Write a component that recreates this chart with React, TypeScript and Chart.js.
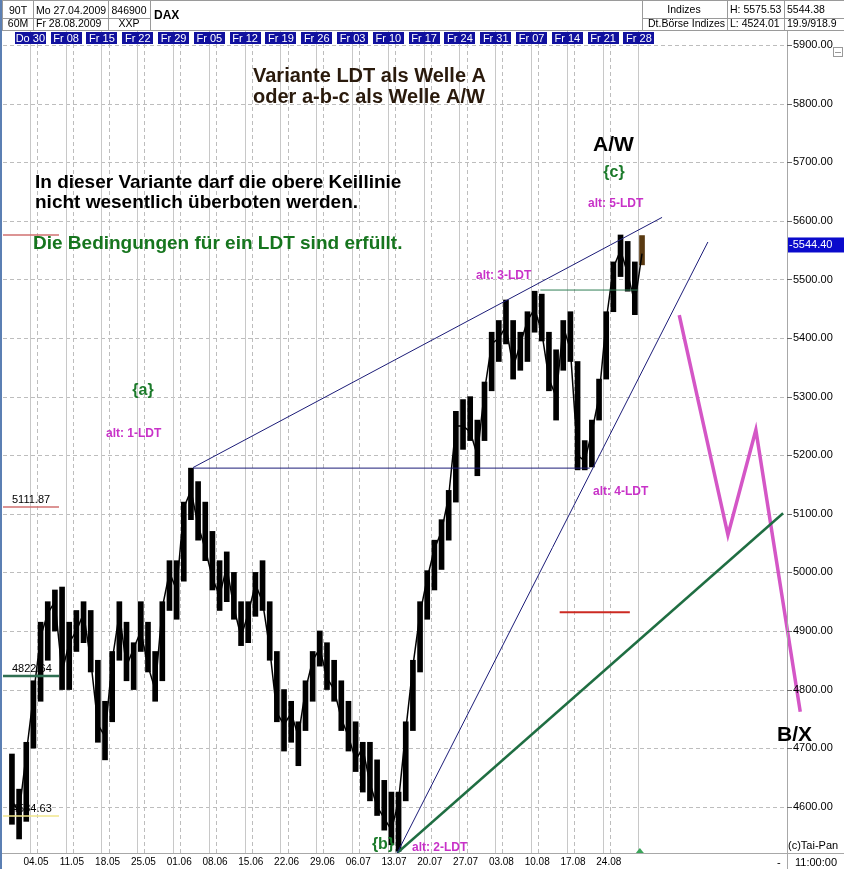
import React, { useEffect, useRef } from "react";
import { Chart, registerables } from "chart.js";

Chart.register(...registerables);

const FONT = '"Liberation Sans", Arial, Helvetica, sans-serif';

// trading-day index (0 = Mo 04.05.2009, 84 = Fr 28.08.2009)
const days = [-4, -3, -2, -1, 0, 1, 2, 3, 4, 5, 6, 7, 8, 9, 10, 11, 12, 13, 14, 15, 16, 17, 18, 19, 20, 21, 22, 23, 24, 25, 26, 27, 28, 29, 30, 31, 32, 33, 34, 35, 36, 37, 38, 39, 40, 41, 42, 43, 44, 45, 46, 47, 48, 49, 50, 51, 52, 53, 54, 55, 56, 57, 58, 59, 60, 61, 62, 63, 64, 65, 66, 67, 68, 69, 70, 71, 72, 73, 74, 75, 76, 77, 78, 79, 80, 81, 82, 83, 84];
const lows = [4570, 4545, 4575, 4700, 4780, 4850, 4900, 4800, 4800, 4865, 4880, 4830, 4710, 4680, 4745, 4850, 4815, 4800, 4865, 4830, 4780, 4815, 4935, 4920, 4985, 5090, 5055, 5020, 4970, 4935, 4950, 4920, 4875, 4880, 4925, 4935, 4850, 4745, 4695, 4710, 4670, 4730, 4780, 4840, 4800, 4780, 4730, 4695, 4660, 4625, 4610, 4585, 4560, 4535, 4524, 4610, 4730, 4830, 4920, 4970, 5005, 5055, 5120, 5210, 5225, 5165, 5225, 5310, 5360, 5390, 5330, 5345, 5360, 5410, 5395, 5310, 5260, 5345, 5360, 5175, 5175, 5180, 5260, 5330, 5445, 5505, 5480, 5440, 5525];
const highs = [4690, 4630, 4710, 4815, 4915, 4950, 4970, 4975, 4915, 4935, 4950, 4935, 4850, 4780, 4865, 4950, 4915, 4880, 4950, 4915, 4865, 4950, 5020, 5020, 5120, 5178, 5155, 5120, 5070, 5020, 5035, 5000, 4950, 4950, 5000, 5020, 4950, 4865, 4800, 4780, 4745, 4815, 4865, 4900, 4880, 4850, 4815, 4780, 4745, 4710, 4710, 4680, 4645, 4625, 4625, 4745, 4850, 4950, 5003, 5055, 5090, 5140, 5275, 5295, 5300, 5260, 5325, 5410, 5430, 5465, 5430, 5410, 5445, 5480, 5475, 5410, 5380, 5430, 5445, 5360, 5225, 5260, 5330, 5445, 5530, 5576, 5565, 5530, 5575];
const closes = [4610, 4590, 4690, 4790, 4890, 4930, 4950, 4830, 4880, 4900, 4930, 4850, 4740, 4720, 4850, 4930, 4840, 4870, 4900, 4840, 4800, 4940, 5000, 4970, 5110, 5140, 5080, 5040, 4990, 4960, 5010, 4940, 4890, 4930, 4980, 4950, 4870, 4760, 4740, 4760, 4720, 4800, 4850, 4870, 4820, 4800, 4750, 4720, 4680, 4700, 4640, 4600, 4580, 4560, 4610, 4730, 4840, 4930, 4990, 5040, 5070, 5130, 5250, 5250, 5240, 5200, 5310, 5390, 5400, 5420, 5350, 5390, 5430, 5450, 5410, 5330, 5300, 5420, 5380, 5200, 5190, 5240, 5300, 5430, 5520, 5550, 5510, 5460, 5544];

const priceTicks = [5900, 5800, 5700, 5600, 5500, 5400, 5300, 5200, 5100, 5000, 4900, 4800, 4700, 4600];
const mondayDays = [0, 5, 10, 15, 20, 25, 30, 35, 40, 45, 50, 55, 60, 65, 70, 75, 80];
const mondayLabels = ["04.05", "11.05", "18.05", "25.05", "01.06", "08.06", "15.06", "22.06", "29.06", "06.07", "13.07", "20.07", "27.07", "03.08", "10.08", "17.08", "24.08"];
const fridayDays = [-1, 4, 9, 14, 19, 24, 29, 34, 39, 44, 49, 54, 59, 64, 69, 74, 79, 84];
const fridayLabels = ["Do 30", "Fr 08", "Fr 15", "Fr 22", "Fr 29", "Fr 05", "Fr 12", "Fr 19", "Fr 26", "Fr 03", "Fr 10", "Fr 17", "Fr 24", "Fr 31", "Fr 07", "Fr 14", "Fr 21", "Fr 28"];

// annotation lines (day index, price)
const upperWedgeX = [21.8, 87.3];
const upperWedgeY = [5179, 5606];
const baseLineX = [21.8, 77.2];
const baseLineY = [5178, 5178];
const lowerWedgeX = [50.3, 93.7];
const lowerWedgeY = [4521, 5564];
const greenTrendX = [50.3, 104.2];
const greenTrendY = [4521, 5101];
const greenLevelX = [70.3, 83.9];
const greenLevelY = [5482, 5482];
const redLevelX = [73, 82.8];
const redLevelY = [4932, 4932];
const projX = [89.7, 96.5, 100.4, 106.6];
const projY = [5439, 5064, 5243, 4762];

// markers on left edge
const markerValues = [5575.53, 5111.87, 4822.64, 4584.63];
const markerLabels = ["", "5111.87", "4822.64", "4584.63"];
const markerColors = ["#d07070", "#d07070", "#2f6f52", "#f0e68c"];
const lastPrice = 5544.4;

function pts(xs: number[], ys: number[]) {
  return xs.map((x, i) => ({ x, y: ys[i] }));
}

function text(ctx: CanvasRenderingContext2D, s: string, x: number, y: number, font: string, color: string, align: CanvasTextAlign = "left") {
  ctx.font = font;
  ctx.fillStyle = color;
  ctx.textAlign = align;
  ctx.textBaseline = "alphabetic";
  ctx.fillText(s, x, y);
}

const decoPlugin = {
  id: "deco",
  beforeDatasetsDraw(chart: any) {
    const ctx: CanvasRenderingContext2D = chart.ctx;
    const xs = chart.scales.x;
    const ys = chart.scales.y;
    const { left, right, top, bottom } = chart.chartArea;
    ctx.save();
    ctx.fillStyle = "#ffffff";
    ctx.fillRect(0, 0, chart.width, chart.height);
    ctx.strokeStyle = "#bdbdbd";
    ctx.lineWidth = 1;
    ctx.setLineDash([4, 3]);
    priceTicks.forEach((p) => {
      const y = Math.round(ys.getPixelForValue(p)) + 0.5;
      ctx.beginPath();
      ctx.moveTo(left, y);
      ctx.lineTo(right, y);
      ctx.stroke();
    });
    mondayDays.forEach((d) => {
      const x = Math.round(xs.getPixelForValue(d)) + 0.5;
      ctx.beginPath();
      ctx.moveTo(x, top);
      ctx.lineTo(x, bottom);
      ctx.stroke();
    });
    ctx.setLineDash([]);
    ctx.strokeStyle = "#c8c8c8";
    fridayDays.forEach((d) => {
      const x = Math.round(xs.getPixelForValue(d)) + 0.5;
      ctx.beginPath();
      ctx.moveTo(x, 31);
      ctx.lineTo(x, bottom);
      ctx.stroke();
    });
    ctx.restore();
  },
  afterDraw(chart: any) {
    const ctx: CanvasRenderingContext2D = chart.ctx;
    const xs = chart.scales.x;
    const ys = chart.scales.y;
    const { right, bottom } = chart.chartArea;
    const W = chart.width;
    const H = chart.height;
    ctx.save();

    markerValues.forEach((v, i) => {
      const y = Math.round(ys.getPixelForValue(v));
      ctx.strokeStyle = markerColors[i];
      ctx.lineWidth = i === 2 ? 2.5 : 1.5;
      ctx.beginPath();
      ctx.moveTo(3, y);
      ctx.lineTo(59, y);
      ctx.stroke();
      if (markerLabels[i]) text(ctx, markerLabels[i], 12, y - 4, "11px " + FONT, "#000");
    });

    ctx.strokeStyle = "#a8a8a8";
    ctx.lineWidth = 1;
    ctx.beginPath();
    ctx.moveTo(Math.round(right) + 0.5, 31);
    ctx.lineTo(Math.round(right) + 0.5, H);
    ctx.moveTo(0, Math.round(bottom) + 0.5);
    ctx.lineTo(W, Math.round(bottom) + 0.5);
    ctx.stroke();

    priceTicks.forEach((p) => {
      const y = ys.getPixelForValue(p);
      ctx.strokeStyle = "#666";
      ctx.beginPath();
      ctx.moveTo(right, Math.round(y) + 0.5);
      ctx.lineTo(right + 5, Math.round(y) + 0.5);
      ctx.stroke();
      ctx.font = "11px " + FONT;
      ctx.fillStyle = "#000";
      ctx.textAlign = "left";
      ctx.textBaseline = "middle";
      ctx.fillText(p.toFixed(2), right + 6, y);
    });
    const ly = ys.getPixelForValue(lastPrice);
    ctx.fillStyle = "#0a0acc";
    ctx.fillRect(right + 1, ly - 16, W - right - 1, 15);
    ctx.font = "11px " + FONT;
    ctx.fillStyle = "#fff";
    ctx.textBaseline = "middle";
    ctx.textAlign = "left";
    ctx.fillText("-" + lastPrice.toFixed(2), right + 2, ly - 8.5);
    ctx.strokeStyle = "#999";
    ctx.strokeRect(833.5, 47.5, 9, 9);
    ctx.beginPath();
    ctx.moveTo(835, 52.5);
    ctx.lineTo(841, 52.5);
    ctx.stroke();

    mondayDays.forEach((d, i) => {
      const x = xs.getPixelForValue(d);
      ctx.font = "10px " + FONT;
      ctx.fillStyle = "#000";
      ctx.textAlign = "center";
      ctx.textBaseline = "middle";
      ctx.fillText(mondayLabels[i], x - 1, 862);
    });
    const tx = xs.getPixelForValue(84.2);
    ctx.fillStyle = "#3aa55a";
    ctx.beginPath();
    ctx.moveTo(tx - 4, 853);
    ctx.lineTo(tx + 4, 853);
    ctx.lineTo(tx, 848);
    ctx.closePath();
    ctx.fill();

    fridayDays.forEach((d, i) => {
      const x = xs.getPixelForValue(d);
      ctx.fillStyle = "#10109e";
      ctx.fillRect(Math.round(x - 15), 32, 31, 12);
      ctx.font = "11px " + FONT;
      ctx.fillStyle = "#fff";
      ctx.textAlign = "center";
      ctx.textBaseline = "middle";
      ctx.fillText(fridayLabels[i], x + 0.5, 38.5);
    });

    ctx.fillStyle = "#fff";
    ctx.fillRect(0, 0, W, 30);
    ctx.strokeStyle = "#9a9a9a";
    ctx.lineWidth = 1;
    ctx.beginPath();
    ctx.moveTo(0, 0.5); ctx.lineTo(W, 0.5);
    ctx.moveTo(0, 30.5); ctx.lineTo(W, 30.5);
    [2.5, 33.5, 108.5, 150.5, 642.5, 727.5, 784.5].forEach((x) => {
      ctx.moveTo(x, 0); ctx.lineTo(x, 30);
    });
    ctx.moveTo(2, 18.5); ctx.lineTo(150, 18.5);
    ctx.moveTo(642, 18.5); ctx.lineTo(W, 18.5);
    ctx.stroke();
    const hf = "10.5px " + FONT;
    text(ctx, "90T", 18, 14, hf, "#000", "center");
    text(ctx, "60M", 18, 27, hf, "#000", "center");
    text(ctx, "Mo 27.04.2009", 36, 14, hf, "#000");
    text(ctx, "Fr 28.08.2009", 36, 27, hf, "#000");
    text(ctx, "846900", 129, 14, hf, "#000", "center");
    text(ctx, "XXP", 129, 27, hf, "#000", "center");
    text(ctx, "DAX", 154, 19, "bold 12px " + FONT, "#000");
    text(ctx, "Indizes", 684, 13, hf, "#000", "center");
    text(ctx, "Dt.Börse Indizes", 725, 27, hf, "#000", "right");
    text(ctx, "H: 5575.53", 730, 13, hf, "#000");
    text(ctx, "L: 4524.01", 730, 27, hf, "#000");
    text(ctx, "5544.38", 787, 13, hf, "#000");
    text(ctx, "19.9/918.9", 787, 27, hf, "#000");

    ctx.fillStyle = "#5b7fb3";
    ctx.fillRect(0, 0, 2, H);

    const dark = "#2a1a0c";
    text(ctx, "Variante LDT als Welle A", 253, 82, "bold 20px " + FONT, dark);
    text(ctx, "oder a-b-c als Welle A/W", 253, 103, "bold 20px " + FONT, dark);
    text(ctx, "In dieser Variante darf die obere Keillinie", 35, 188, "bold 19px " + FONT, "#000");
    text(ctx, "nicht wesentlich überboten werden.", 35, 208, "bold 19px " + FONT, "#000");
    text(ctx, "Die Bedingungen für ein LDT sind erfüllt.", 33, 249, "bold 19px " + FONT, "#16751e");
    text(ctx, "A/W", 593, 151, "bold 21px " + FONT, "#000");
    const green = "#1b7a2a";
    text(ctx, "{c}", 614, 177, "bold 16px " + FONT, green, "center");
    text(ctx, "{a}", 143, 395, "bold 16px " + FONT, green, "center");
    text(ctx, "{b}", 383, 849, "bold 16px " + FONT, green, "center");
    const mag = "#c832c8";
    const af = "bold 12px " + FONT;
    text(ctx, "alt: 5-LDT", 588, 207, af, mag);
    text(ctx, "alt: 3-LDT", 476, 279, af, mag);
    text(ctx, "alt: 4-LDT", 593, 495, af, mag);
    text(ctx, "alt: 2-LDT", 412, 851, af, mag);
    text(ctx, "alt: 1-LDT", 106, 437, af, mag);
    text(ctx, "B/X", 777, 741, "bold 21px " + FONT, "#000");
    text(ctx, "(c)Tai-Pan", 788, 849, "11px " + FONT, "#000");
    text(ctx, "11:00:00", 795, 866, "11px " + FONT, "#000");
    text(ctx, "-", 777, 866, "11px " + FONT, "#000");

    ctx.restore();
  },
};

export default function App() {
  const ref = useRef<HTMLCanvasElement | null>(null);
  useEffect(() => {
    if (!ref.current) return;
    const barColors = days.map((d) => (d === 84 ? "#5a3a12" : "#000000"));
    const chart = new Chart(ref.current, {
      type: "bar",
      data: {
        datasets: [
          { type: "line", data: pts(upperWedgeX, upperWedgeY), borderColor: "#1c1c78", borderWidth: 1, pointRadius: 0, order: 0 },
          { type: "line", data: pts(baseLineX, baseLineY), borderColor: "#1c1c78", borderWidth: 1, pointRadius: 0, order: 0 },
          { type: "line", data: pts(lowerWedgeX, lowerWedgeY), borderColor: "#1c1c78", borderWidth: 1, pointRadius: 0, order: 0 },
          { type: "line", data: pts(greenTrendX, greenTrendY), borderColor: "#1f6e42", borderWidth: 2.5, pointRadius: 0, order: 0 },
          { type: "line", data: pts(greenLevelX, greenLevelY), borderColor: "#2f7f55", borderWidth: 1, pointRadius: 0, order: 0 },
          { type: "line", data: pts(redLevelX, redLevelY), borderColor: "#cc2a22", borderWidth: 2, pointRadius: 0, order: 0 },
          { type: "line", data: pts(projX, projY), borderColor: "#d456c6", borderWidth: 3.5, pointRadius: 0, order: 0, clip: false } as any,
          { type: "line", data: days.map((d, i) => ({ x: d + 0.5, y: closes[i] })), borderColor: "#000", borderWidth: 1.5, pointRadius: 0, order: 1 },
          {
            type: "bar",
            data: days.map((d, i) => ({ x: d + 0.5, y: [lows[i], highs[i]] })) as any,
            backgroundColor: barColors,
            borderWidth: 0,
            barThickness: 5,
            order: 2,
          } as any,
        ],
      },
      options: {
        responsive: false,
        animation: false,
        devicePixelRatio: 1,
        layout: { padding: { left: 3, right: 57, top: 44, bottom: 16 } },
        scales: {
          x: { type: "linear", min: -4.75, max: 104.75, display: false, offset: false } as any,
          y: { type: "linear", min: 4521, max: 5902, display: false },
        },
        plugins: { legend: { display: false }, tooltip: { enabled: false } },
      },
      plugins: [decoPlugin],
    });
    return () => chart.destroy();
  }, []);
  return (
    <div style={{ position: "absolute", left: 0, top: 0, width: 844, height: 869, background: "#fff" }}>
      <canvas ref={ref} width={844} height={869} style={{ display: "block", width: 844, height: 869 }} />
    </div>
  );
}
